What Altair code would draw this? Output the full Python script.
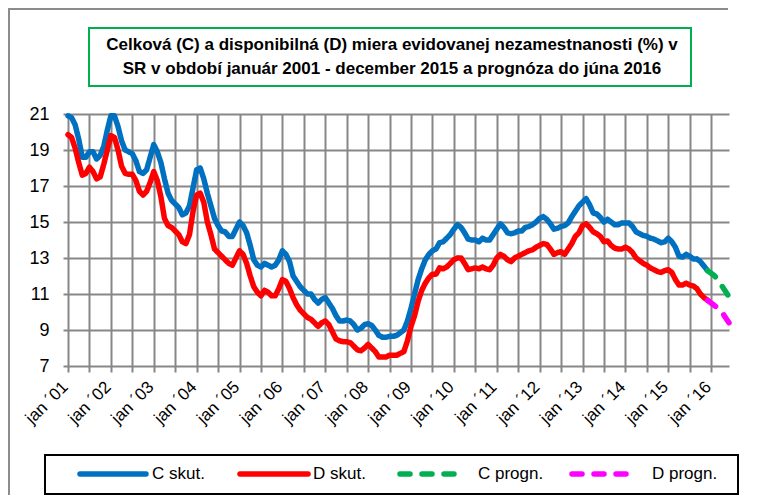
import altair as alt
import pandas as pd

# Monthly values, Jan 2001 .. Dec 2015
c_skut = [
    20.9, 20.8, 20.4, 19.6, 18.6, 18.6, 18.9, 18.9, 18.5, 18.7, 19.2, 20.1,   # 2001
    20.9, 20.9, 20.3, 19.5, 19.0, 18.9, 18.8, 18.4, 17.8, 17.7, 17.9, 18.6,   # 2002
    19.3, 18.9, 18.3, 17.4, 16.6, 16.2, 16.0, 15.8, 15.4, 15.5, 15.9, 16.9,   # 2003
    17.9, 18.0, 17.4, 16.6, 15.9, 15.2, 14.8, 14.5, 14.45, 14.2, 14.2, 14.6,  # 2004
    15.0, 14.8, 14.4, 13.7, 12.9, 12.6, 12.5, 12.7, 12.6, 12.5, 12.6, 12.9,   # 2005
    13.4, 13.2, 12.8, 12.0, 11.7, 11.4, 11.2, 11.0, 11.0, 10.7, 10.5, 10.7,   # 2006
    10.8, 10.5, 10.2, 9.8, 9.5, 9.5, 9.55, 9.5, 9.3, 9.0, 9.1, 9.3,           # 2007
    9.35, 9.25, 9.0, 8.7, 8.6, 8.6, 8.65, 8.65, 8.7, 8.85, 9.0, 9.5,          # 2008
    10.2, 11.0, 11.8, 12.4, 12.9, 13.2, 13.4, 13.5, 13.85, 13.9, 14.1, 14.3,  # 2009
    14.6, 14.85, 14.7, 14.4, 14.05, 14.0, 14.0, 13.9, 14.1, 14.0, 14.0, 14.3, # 2010
    14.6, 14.9, 14.7, 14.4, 14.35, 14.4, 14.5, 14.5, 14.7, 14.75, 14.85, 15.0,# 2011
    15.2, 15.3, 15.15, 14.9, 14.6, 14.65, 14.75, 14.8, 14.95, 15.3, 15.6, 15.9,  # 2012
    16.1, 16.3, 15.95, 15.5, 15.45, 15.25, 15.0, 15.15, 15.0, 14.85, 14.85, 14.95,  # 2013
    14.95, 14.95, 14.75, 14.45, 14.35, 14.25, 14.2, 14.1, 14.05, 13.95, 13.85, 13.9,  # 2014
    14.1, 13.9, 13.6, 13.1, 13.05, 13.2, 13.1, 12.95, 12.95, 12.8, 12.55, 12.3,  # 2015
]
d_skut = [
    19.85, 19.7, 19.1, 18.3, 17.6, 17.7, 18.05, 17.8, 17.4, 17.5, 18.2, 19.0,  # 2001
    19.8, 19.7, 19.0, 18.1, 17.7, 17.65, 17.65, 17.3, 16.7, 16.5, 16.7, 17.2,  # 2002
    17.8, 17.3, 16.4, 15.2, 14.8, 14.7, 14.5, 14.3, 13.9, 13.8, 14.3, 15.6,    # 2003
    16.5, 16.6, 16.1, 15.0, 14.3, 13.5, 13.3, 13.1, 12.9, 12.7, 12.6, 13.0,    # 2004
    13.4, 13.2, 12.7, 12.0, 11.4, 11.1, 10.9, 11.2, 11.1, 10.9, 10.9, 11.3,    # 2005
    11.8, 11.7, 11.3, 10.8, 10.4, 10.1, 9.9, 9.7, 9.6, 9.4, 9.2, 9.4,          # 2006
    9.5, 9.3, 8.9, 8.5, 8.4, 8.35, 8.35, 8.3, 8.1, 7.9, 7.85, 8.0,             # 2007
    8.2, 8.0, 7.8, 7.5, 7.5, 7.5, 7.6, 7.6, 7.6, 7.7, 7.8, 8.4,                # 2008
    9.2, 9.8, 10.6, 11.2, 11.6, 11.9, 12.1, 12.1, 12.45, 12.4, 12.5, 12.7,     # 2009
    12.9, 13.0, 13.0, 12.7, 12.35, 12.4, 12.45, 12.4, 12.5, 12.4, 12.35, 12.6, # 2010
    13.0, 13.2, 13.1, 12.9, 12.8, 13.0, 13.1, 13.2, 13.3, 13.4, 13.45, 13.6,   # 2011
    13.7, 13.8, 13.75, 13.5, 13.2, 13.3, 13.35, 13.2, 13.5, 13.8, 14.2, 14.4,  # 2012
    14.8, 14.9, 14.7, 14.45, 14.35, 14.2, 13.9, 13.95, 13.7, 13.55, 13.5, 13.5,  # 2013
    13.6, 13.5, 13.3, 13.0, 12.85, 12.7, 12.6, 12.45, 12.35, 12.25, 12.2, 12.3,  # 2014
    12.35, 12.2, 11.8, 11.5, 11.5, 11.6, 11.5, 11.45, 11.3, 11.0, 10.8, 10.65,   # 2015
]
# Forecast Dec 2015 .. Jun 2016
c_progn = [12.3, 12.15, 12.0, 11.75, 11.45, 11.15, 10.85]
d_progn = [10.65, 10.5, 10.35, 10.2, 10.0, 9.7, 9.4]

series_names = ["C skut.", "D skut.", "C progn.", "D progn."]
series_colors = ["#0070C0", "#FF0000", "#00B050", "#FF00FF"]
series_dash = [[1, 0], [1, 0], [10, 12], [10, 12]]
title_lines = [
    "Celková (C) a disponibilná (D) miera evidovanej nezamestnanosti (%) v",
    "SR v období január 2001 - december 2015 a prognóza do júna 2016",
]
y_ticks = [7, 9, 11, 13, 15, 17, 19, 21]

rows = []
for i, v in enumerate(c_skut):
    rows.append({"m": i, "v": v, "s": "C skut."})
for i, v in enumerate(d_skut):
    rows.append({"m": i, "v": v, "s": "D skut."})
start = len(c_skut) - 1
for i, v in enumerate(c_progn):
    rows.append({"m": start + i, "v": v, "s": "C progn."})
for i, v in enumerate(d_progn):
    rows.append({"m": start + i, "v": v, "s": "D progn."})
df = pd.DataFrame(rows)

FONT = "Liberation Sans Narrow, Arial Narrow, Liberation Sans, Arial"
GRID = "#878787"

x_enc = alt.X(
    "m:Q",
    scale=alt.Scale(domain=[0, 185], nice=False, zero=False),
    axis=alt.Axis(
        title=None,
        values=list(range(0, 181, 6)),
        labelExpr="datum.value % 12 == 0 ? 'jan ´' + format(datum.value / 12 + 1, '02d') : ''",
        labelAngle=-45,
        labelAlign="right",
        labelBaseline="middle",
        labelPadding=12,
        labelOffset=-3,
        labelFontSize=17,
        labelFont=FONT,
        labelColor="black",
        tickSize=6,
        tickColor=GRID,
        tickWidth=2,
        grid=True,
        gridColor=GRID,
        gridWidth=2,
        domain=False,
        labelOverlap=False,
    ),
)
y_enc = alt.Y(
    "v:Q",
    scale=alt.Scale(domain=[7, 21], nice=False, zero=False),
    axis=alt.Axis(
        title=None,
        values=y_ticks,
        labelFontSize=18,
        labelFont=FONT,
        labelColor="black",
        labelPadding=14,
        tickSize=5,
        tickColor=GRID,
        tickWidth=2,
        grid=True,
        gridColor=GRID,
        gridWidth=2,
        domain=False,
    ),
)

lines = alt.Chart(df).mark_line(strokeWidth=5.5, strokeCap="round", strokeJoin="round").encode(
    x=x_enc,
    y=y_enc,
    color=alt.Color("s:N", scale=alt.Scale(domain=series_names, range=series_colors), legend=None),
    strokeDash=alt.StrokeDash("s:N", scale=alt.Scale(domain=series_names, range=series_dash), legend=None),
    order="m:Q",
)

one = pd.DataFrame({"k": [0]})

# outer chart frame: top and left edges
frame_top = alt.Chart(one).mark_rule(stroke="#8c8c8c", strokeWidth=2).encode(
    x=alt.value(-60), x2=alt.value(660), y=alt.value(-105)
)
frame_left = alt.Chart(one).mark_rule(stroke="#8c8c8c", strokeWidth=2).encode(
    x=alt.value(-59), y=alt.value(-105), y2=alt.value(381)
)

# title box and title lines
box = alt.Chart(one).mark_rect(fill="white", stroke="#00B050", strokeWidth=2).encode(
    x=alt.value(21), x2=alt.value(623), y=alt.value(-86), y2=alt.value(-28)
)
title_layers = []
for line, yy in zip(title_lines, [-69, -45]):
    title_layers.append(
        alt.Chart(pd.DataFrame({"t": [line]})).mark_text(
            font=FONT, fontSize=17, fontWeight="bold", color="black", baseline="middle", align="center"
        ).encode(x=alt.value(324), y=alt.value(yy), text="t:N")
    )

# legend (box, line samples and labels)
leg_box = alt.Chart(one).mark_rect(fill="white", stroke="black", strokeWidth=2).encode(
    x=alt.value(-23), x2=alt.value(670), y=alt.value(341), y2=alt.value(380)
)
leg_line_x = [(12, 78), (172, 240), (332, 394), (504, 567)]
leg_text_x = [84, 245, 410, 584]
leg_layers = [leg_box]
for name, col, dash, (xa, xb), xt in zip(series_names, series_colors, series_dash, leg_line_x, leg_text_x):
    leg_layers.append(
        alt.Chart(one).mark_rule(strokeWidth=5.5, strokeCap="round", strokeDash=dash, color=col).encode(
            x=alt.value(xa), x2=alt.value(xb), y=alt.value(360)
        )
    )
    leg_layers.append(
        alt.Chart(pd.DataFrame({"t": [name]})).mark_text(
            font=FONT, fontSize=17, color="black", baseline="middle", align="left"
        ).encode(x=alt.value(xt), y=alt.value(360), text="t:N")
    )

chart = alt.layer(frame_top, frame_left, lines, box, *title_layers, *leg_layers).properties(
    width=661,
    height=252,
    padding={"left": 60, "top": 106, "right": 11, "bottom": 129},
    autosize=alt.AutoSizeParams(type="none"),
    background="white",
).configure_view(strokeWidth=0)

chart.save("out.html", embed_options={"renderer": "svg", "actions": False})
